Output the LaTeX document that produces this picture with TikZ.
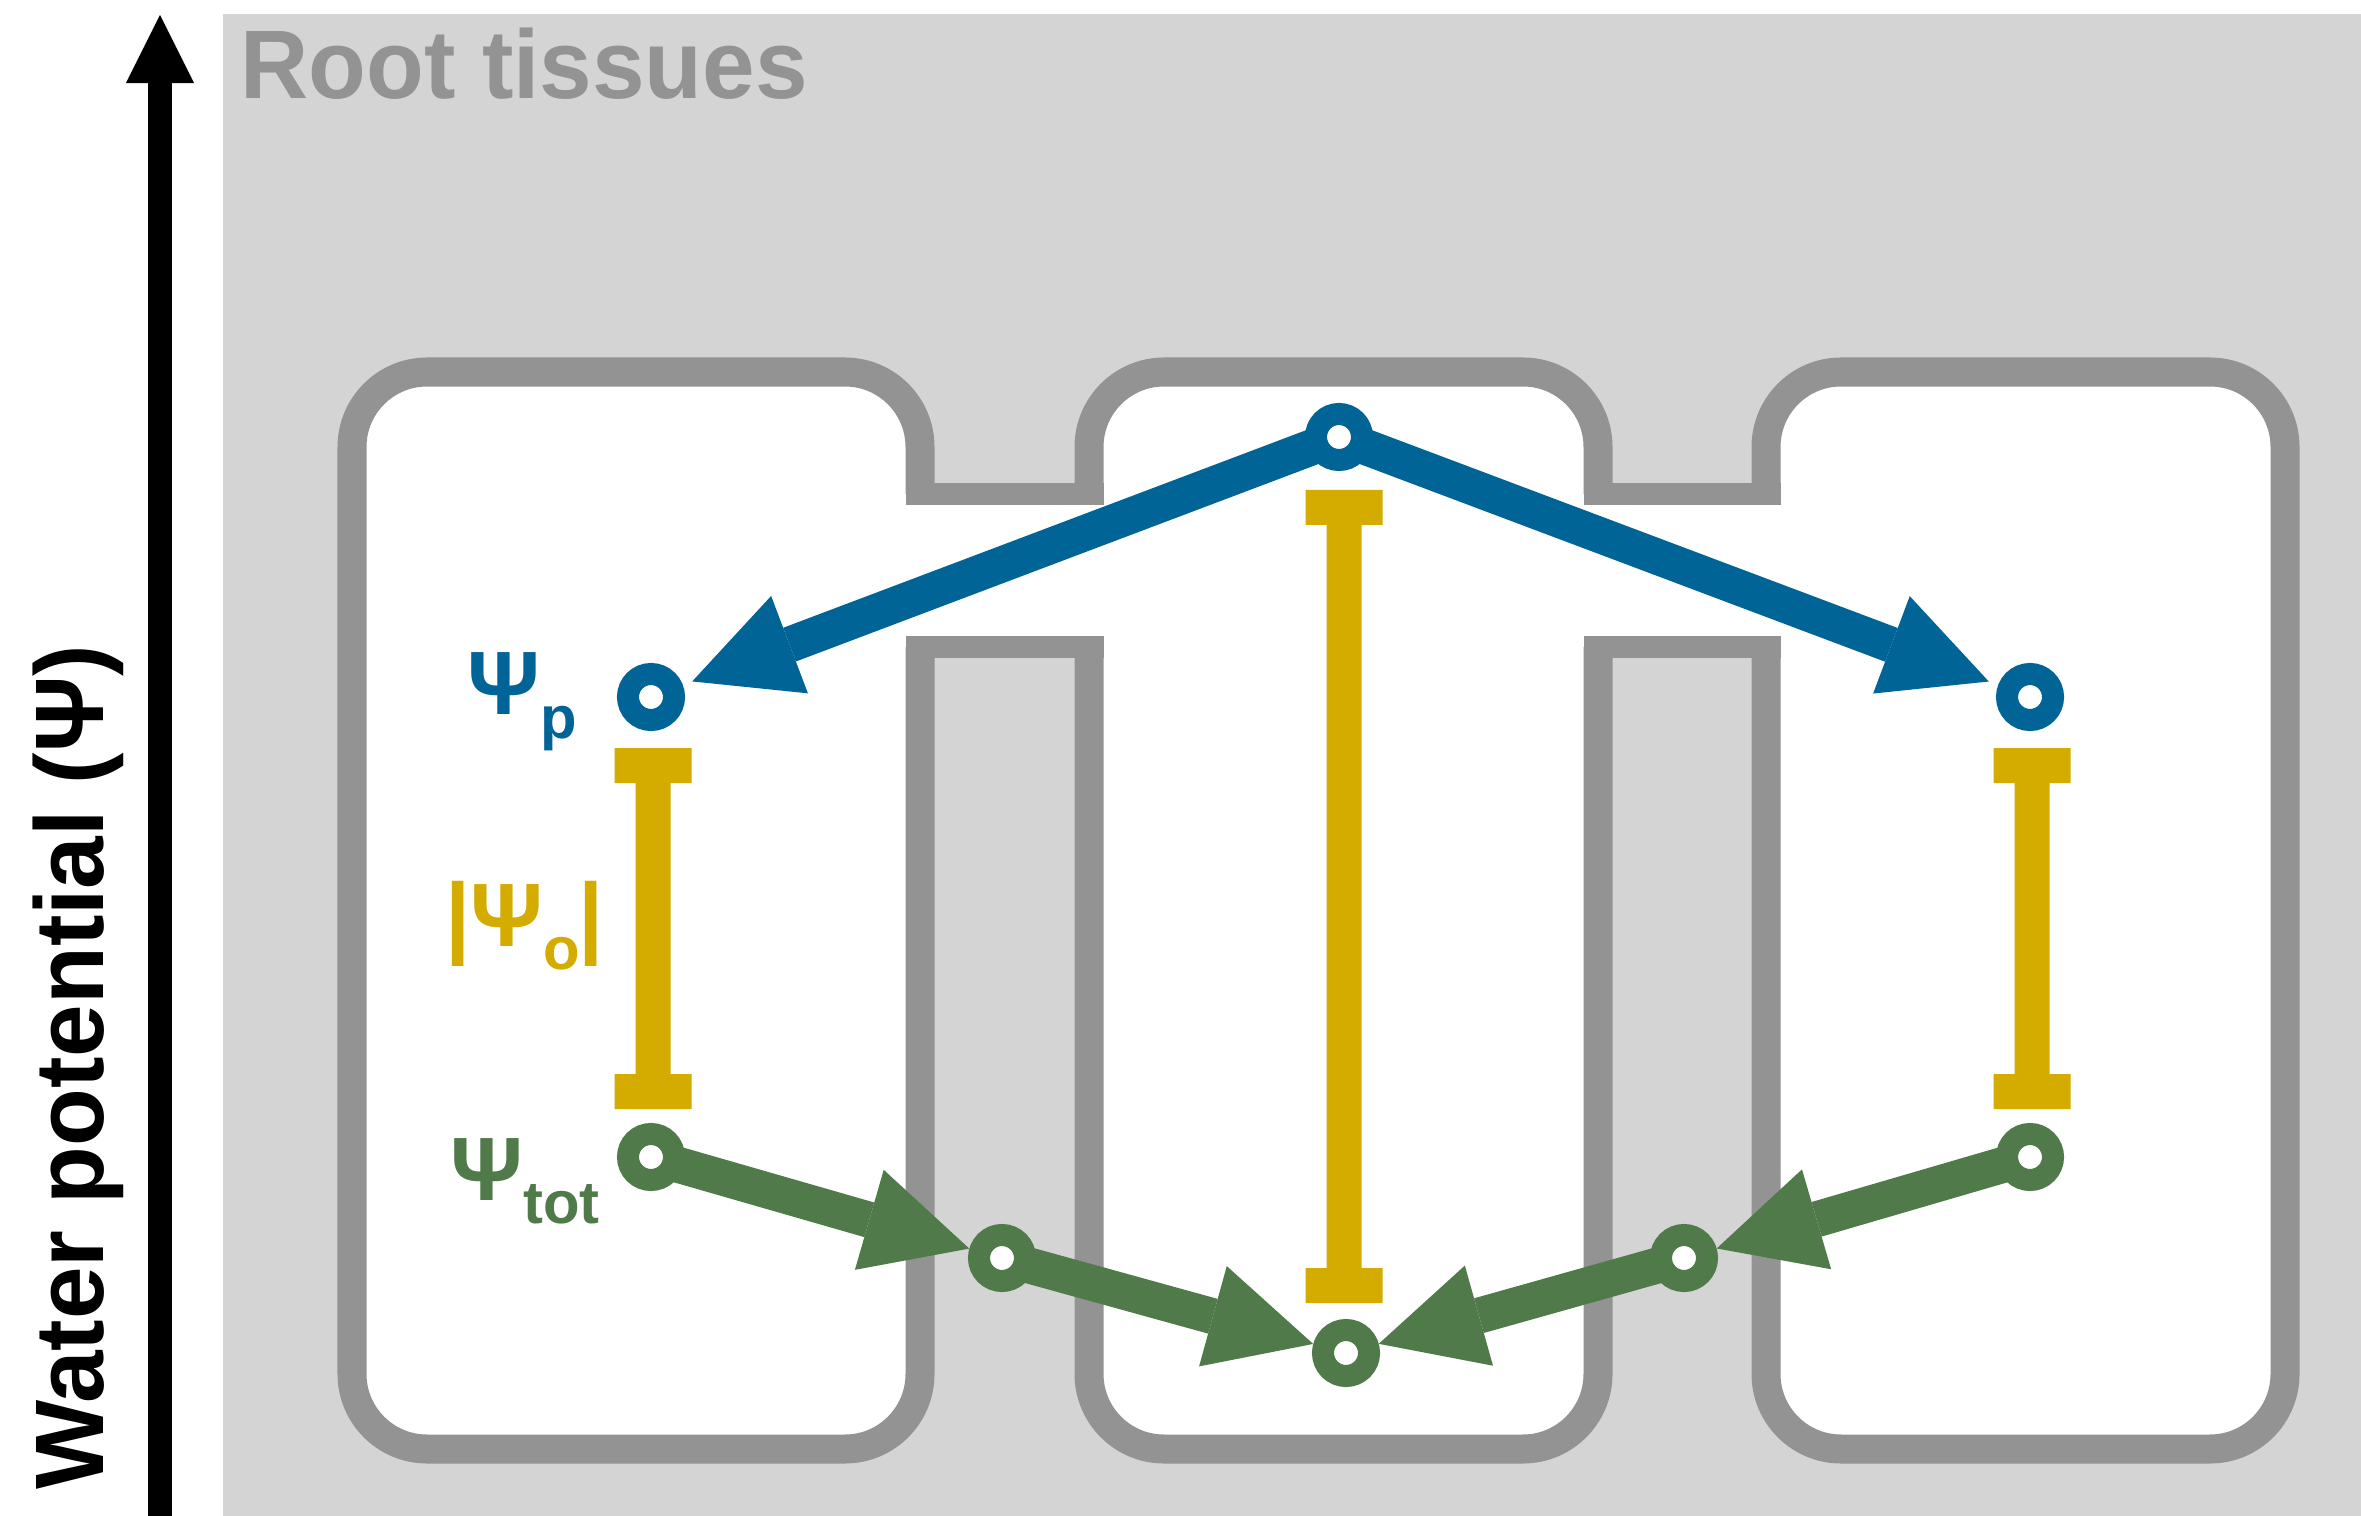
\documentclass[tikz,border=0pt]{standalone}
\usepackage{fontspec}
\setmainfont{Liberation Sans}
\newfontfamily\titlefont{Liberation Sans}[FakeStretch=0.97]
\usetikzlibrary{arrows.meta, backgrounds}

\definecolor{tissuegray}{HTML}{D4D4D4}
\definecolor{wallgray}{HTML}{939393}
\definecolor{turgorblue}{HTML}{006496}
\definecolor{osmoyellow}{HTML}{D4AC00}
\definecolor{totalgreen}{HTML}{517A4B}

\newcommand{\potsub}[1]{\raisebox{-0.23cm}{\fontsize{17}{17}\selectfont #1}}

\begin{document}
\begin{tikzpicture}[
        % one unit = one pixel of the original figure
        x=0.01cm, y=-0.01cm,
        % Cell walls: medium gray, thick, rounded corners
        cellwall/.style = {draw=wallgray, line width=0.29cm, rounded corners=0.75cm},
        % Channels joining neighbouring cells: slightly thinner
        channel/.style = {draw=wallgray, line width=0.22cm},
        % Potential markers: thick ring with a white hole
        potmark/.style = {circle, draw, fill=white, line width=0.22cm,
                          minimum size=0.46cm, inner sep=0pt},
        % Flow arrows: thick line, big triangular head
        flow/.style = {line width=0.36cm, shorten <=-0.06cm,
                       -{Triangle[length=1.04cm, width=1.04cm, line width=0pt]}},
        % Axis arrow
        axis_arrow/.style = {line width=0.24cm, -{Triangle[length=0.68cm, width=0.68cm, line width=0pt]}},
        % Osmotic potential bars
        osmo_bar/.style = {fill=osmoyellow},
        % Labels
        pot_lbl/.style = {font=\fontsize{25.6}{29}\selectfont\bfseries, inner sep=0pt, anchor=base west},
        title_lbl/.style = {font=\titlefont\fontsize{27.7}{32}\selectfont\bfseries, inner sep=0pt, anchor=base west}
    ]

    \useasboundingbox (0,0) rectangle (2361,1516);

    % --- Tissue and cells ---
    \begin{scope}[on background layer]
        \fill[white] (0,0) rectangle (2361,1516);
        \fill[tissuegray] (223,14) rectangle (2361,1516);

        % cell interiors and the two channels
        \fill[white, rounded corners=0.75cm] (352,372) rectangle (920,1449);
        \fill[white, rounded corners=0.75cm] (1089,372) rectangle (1598,1449);
        \fill[white, rounded corners=0.75cm] (1766,372) rectangle (2285,1449);
        \fill[white] (920,494) rectangle (1089,647);
        \fill[white] (1598,494) rectangle (1766,647);

        % walls
        \draw[cellwall] (920,494) -- (920,372) -- (352,372) -- (352,1449) -- (920,1449) -- (920,647);
        \draw[cellwall] (1089,494) -- (1089,372) -- (1598,372) -- (1598,494);
        \draw[cellwall] (1598,647) -- (1598,1449) -- (1089,1449) -- (1089,647);
        \draw[cellwall] (1766,494) -- (1766,372) -- (2285,372) -- (2285,1449) -- (1766,1449) -- (1766,647);

        % channel edges
        \draw[channel] (905.5,494) -- (1103.5,494);
        \draw[channel] (905.5,647) -- (1103.5,647);
        \draw[channel] (1583.5,494) -- (1780.5,494);
        \draw[channel] (1583.5,647) -- (1780.5,647);
    \end{scope}

    % --- Axis ---
    \coordinate (axis_foot) at (160,1516);
    \coordinate (axis_tip) at (160,15);
    \draw[axis_arrow] (axis_foot) -- (axis_tip);

    \node[title_lbl, text=wallgray] (tissue_lbl) at (240,99) {Root tissues};
    \node[title_lbl, rotate=90] (axis_lbl) at (103,1490) {Water potential (Ψ)};

    % --- Potential markers ---
    \node[potmark, draw=turgorblue] (p_mid) at (1339,437) {};
    \node[potmark, draw=turgorblue] (p_left) at (651,697) {};
    \node[potmark, draw=turgorblue] (p_right) at (2030,697) {};

    \node[potmark, draw=totalgreen] (tot_left) at (651,1157) {};
    \node[potmark, draw=totalgreen] (tot_right) at (2030,1157) {};
    \node[potmark, draw=totalgreen] (gap_left) at (1002,1258) {};
    \node[potmark, draw=totalgreen] (gap_right) at (1684,1258) {};
    \node[potmark, draw=totalgreen] (tot_mid) at (1346,1353) {};

    % --- Osmotic bars (cap, stem, cap) ---
    \fill[osmo_bar] (614.5,748) rectangle (691.5,783)
                    (635.5,783) rectangle (670.5,1074)
                    (614.5,1074) rectangle (691.5,1109);
    \fill[osmo_bar] (1305.5,490) rectangle (1382.5,525)
                    (1326.5,525) rectangle (1361.5,1268)
                    (1305.5,1268) rectangle (1382.5,1303);
    \fill[osmo_bar] (1993.5,748) rectangle (2070.5,783)
                    (2014.5,783) rectangle (2049.5,1074)
                    (1993.5,1074) rectangle (2070.5,1109);

    % --- Labels ---
    \node[pot_lbl, text=turgorblue] (p_lbl) at (467,715) {Ψ\potsub{p}};
    \node[pot_lbl, text=osmoyellow] (o_lbl) at (445,946) {|Ψ\potsub{o}\kern-0.02cm|};
    \node[pot_lbl, text=totalgreen] (tot_lbl) at (450,1200) {Ψ\potsub{tot}};

    % --- Flows ---
    \draw[flow, turgorblue, shorten >=0.1cm] (p_mid) -- (p_left);
    \draw[flow, turgorblue, shorten >=0.1cm] (p_mid) -- (p_right);
    \draw[flow, totalgreen] (tot_left) -- (gap_left);
    \draw[flow, totalgreen] (gap_left) -- (tot_mid);
    \draw[flow, totalgreen] (tot_right) -- (gap_right);
    \draw[flow, totalgreen] (gap_right) -- (tot_mid);

\end{tikzpicture}
\end{document}
